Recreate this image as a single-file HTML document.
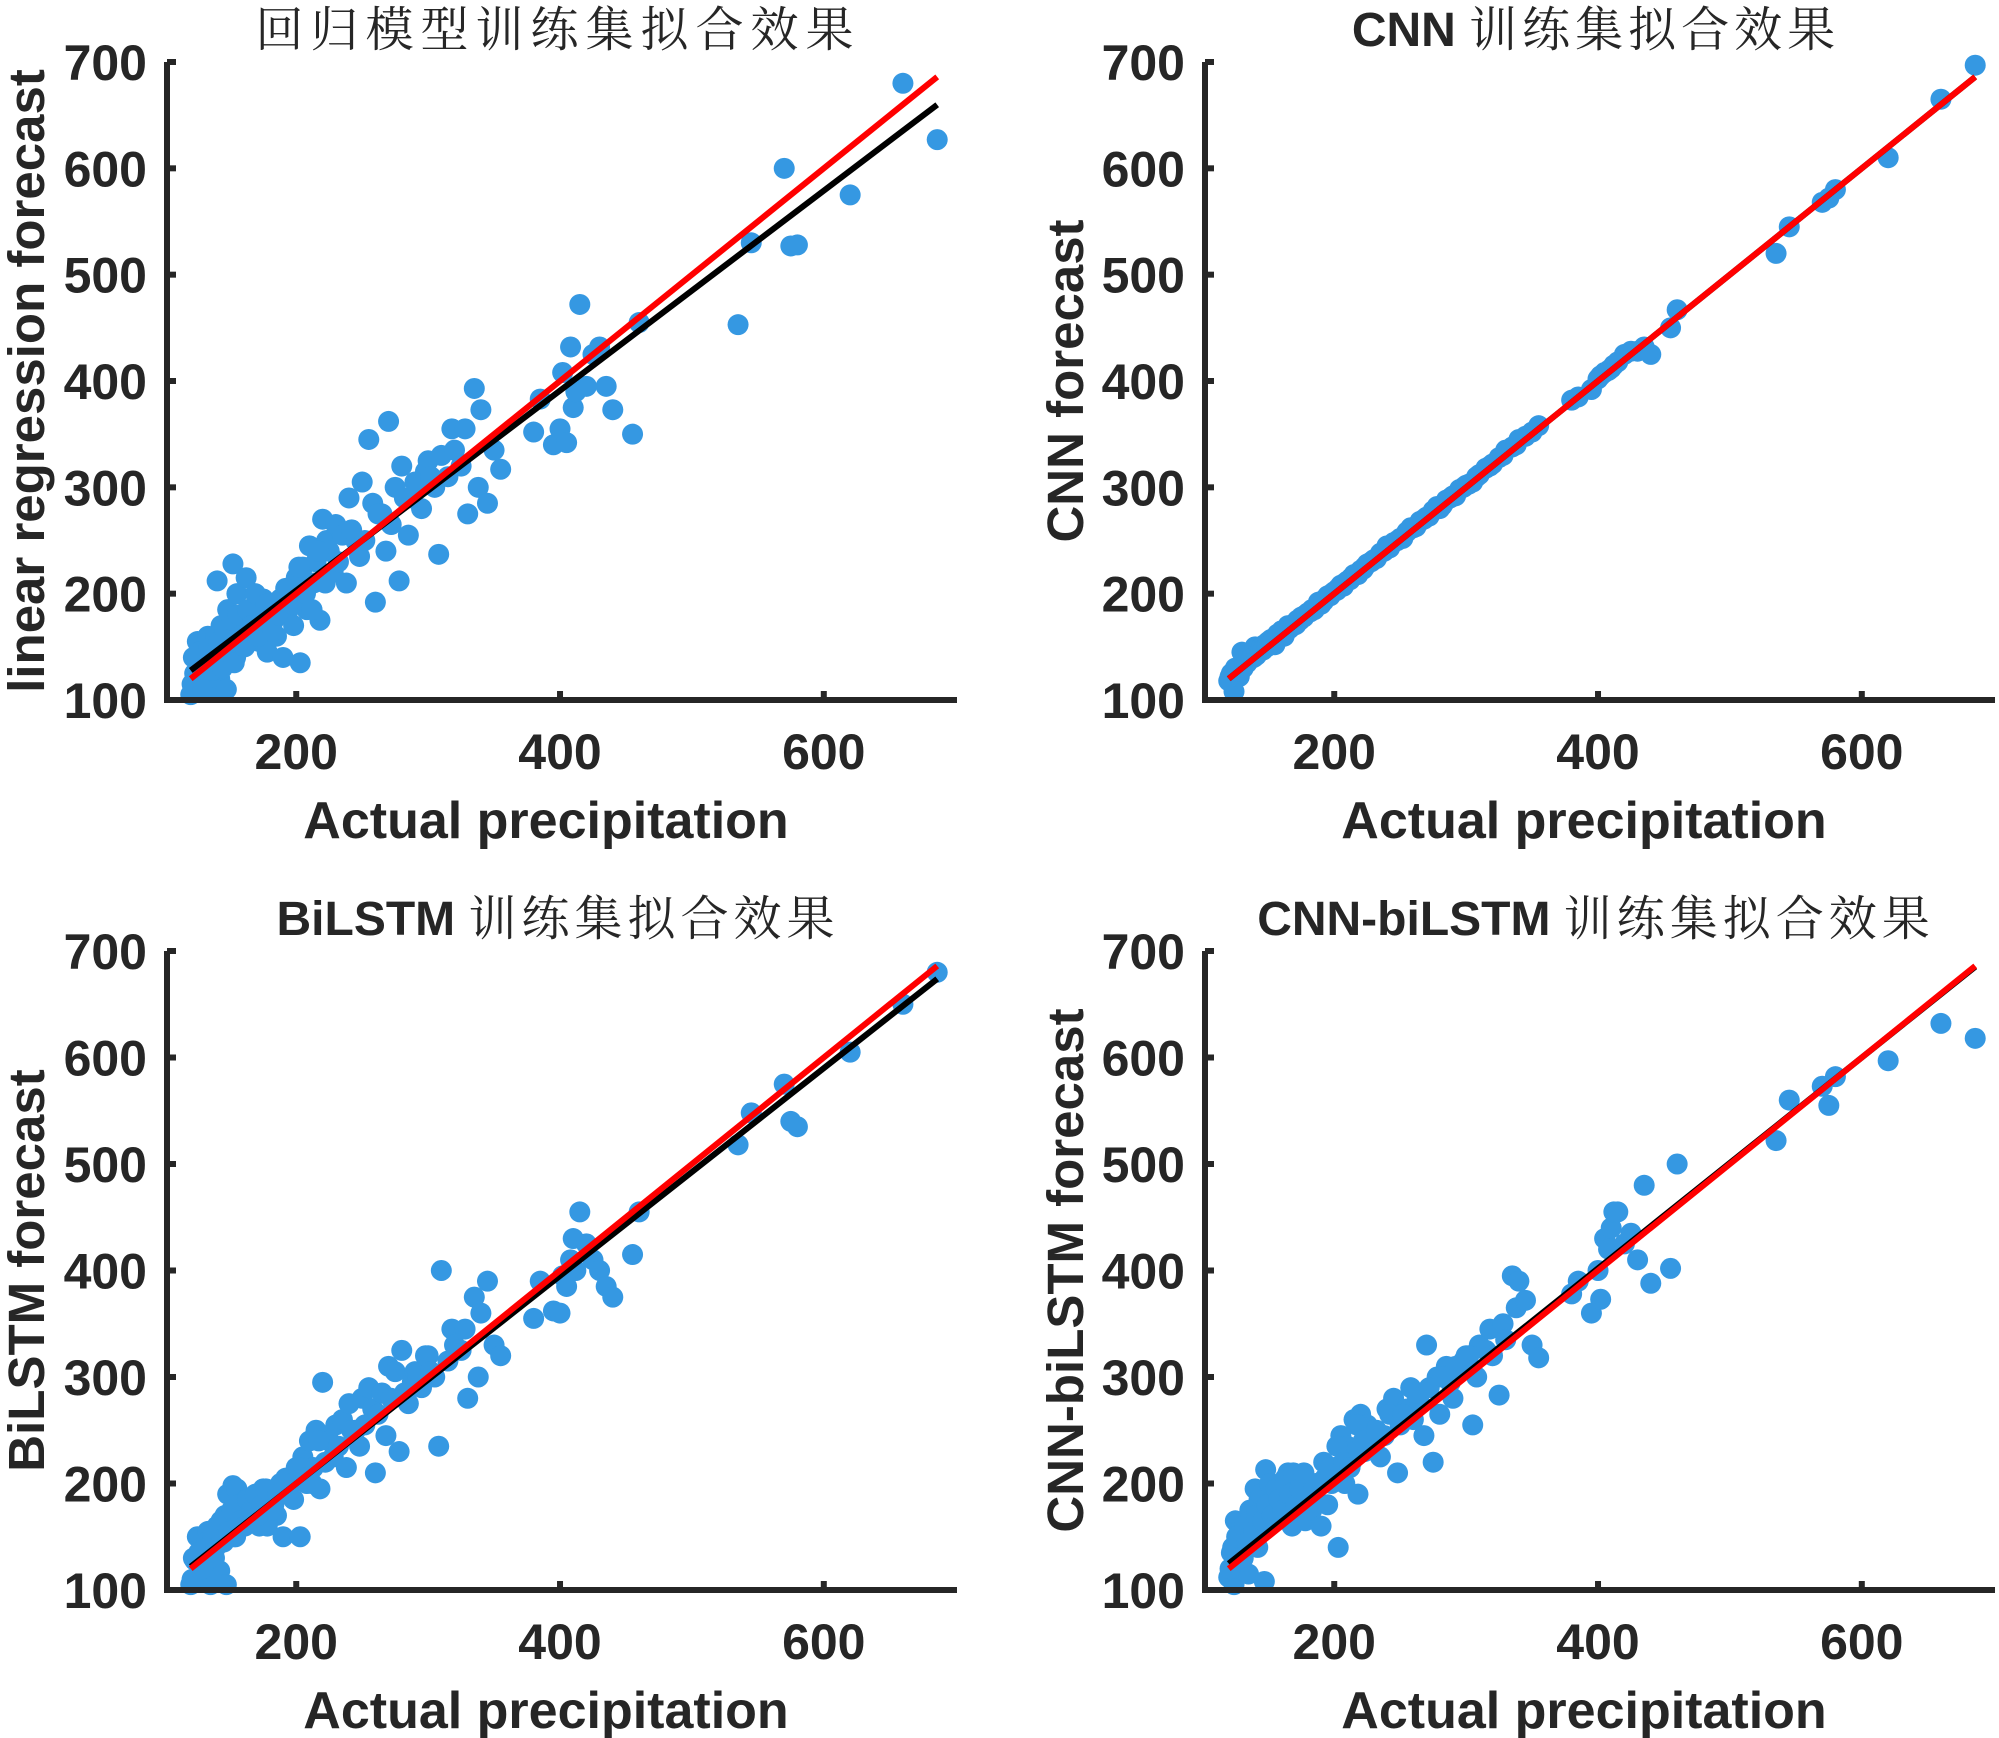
<!DOCTYPE html>
<html><head><meta charset="utf-8">
<style>
html,body{margin:0;padding:0;background:#fff;}
svg{display:block;}
text{font-family:"Liberation Sans","Noto Sans CJK SC",sans-serif;fill:#262626;}
</style></head>
<body>
<svg id="chart" width="1999" height="1738" viewBox="0 0 1999 1738" xmlns="http://www.w3.org/2000/svg"></svg>
<script>
const actual = [120,122,124,125,127,128,130,131,133,135,136,138,140,142,143,145,147,148,150,152,154,155,157,160,162,165,168,170,172,175,178,180,183,185,188,190,193,195,198,200,203,205,208,210,213,215,218,220,223,225,228,230,235,238,240,245,248,250,255,258,260,265,268,270,275,278,280,285,288,290,295,298,300,305,308,310,315,318,320,325,328,330,335,338,340,345,350,355,380,385,395,400,402,405,408,410,412,415,420,425,430,435,440,455,460,535,545,570,575,580,620,660,686,
121,123,126,129,132,134,137,139,141,144,146,149,151,153,156,158,161,163,166,169,171,174,177,182,186,192,197,202,207,212,217,222,232,242,252,262,272,282,292,302];
const predLinear = [105,140,112,155,130,118,150,125,160,108,145,135,212,120,170,150,110,185,160,228,140,200,175,150,215,180,165,190,155,195,145,185,175,160,195,140,180,200,170,215,135,225,185,245,210,230,175,270,250,240,220,265,255,210,290,250,235,305,345,285,192,275,240,362,300,212,320,255,290,305,280,315,325,300,237,330,310,355,335,320,355,275,393,300,373,285,335,317,352,383,340,355,408,342,432,375,390,472,395,425,432,395,373,350,455,453,530,600,527,528,575,680,627,
115,125,145,110,135,150,128,160,155,130,165,145,175,135,180,160,150,185,170,200,160,175,190,165,180,205,190,225,200,185,240,210,230,260,250,275,265,290,300,310];
const predCNN = [118,125,108,130,128,122,145,130,138,140,138,142,150,145,148,150,152,150,155,157,158,152,162,165,160,170,170,172,175,178,180,182,185,185,192,190,195,198,200,202,205,208,210,212,215,218,218,222,225,228,230,232,238,240,245,248,250,252,258,262,262,268,270,272,278,282,280,288,290,292,298,300,302,305,310,312,318,320,322,328,330,335,338,340,345,348,352,358,382,385,392,402,405,408,410,412,415,418,425,428,428,432,425,450,467,520,545,568,572,580,610,665,697,
122,124,127,131,133,135,139,140,142,146,147,150,152,154,157,158,162,164,167,170,171,175,178,183,187,193,198,203,207,213,218,223,233,243,252,263,273,283,292,303];
const predBiLSTM = [105,130,110,150,125,120,140,118,155,105,140,130,160,118,165,145,105,190,155,198,150,195,172,160,185,175,165,190,160,195,160,185,180,170,200,150,190,205,185,215,150,225,200,240,215,250,195,295,245,240,225,255,260,215,275,250,235,280,290,270,210,285,245,310,305,230,325,275,295,305,290,320,320,300,235,400,315,345,330,325,345,280,375,300,360,390,330,320,355,390,362,360,395,385,410,430,400,455,425,410,400,385,375,415,455,518,548,575,540,535,605,650,680,
110,128,135,120,145,130,150,140,160,148,170,155,175,150,180,165,160,185,175,190,170,180,195,175,190,205,200,215,205,200,240,220,235,250,255,265,280,285,300,305];
const predHybrid = [112,135,105,165,125,120,160,130,145,115,175,150,195,140,185,160,108,213,170,200,185,180,178,190,172,210,160,200,175,195,165,190,175,185,200,160,205,180,200,215,140,245,200,235,220,260,190,265,230,255,240,250,225,245,270,280,210,255,270,290,260,275,245,330,220,300,265,310,295,280,305,315,320,255,300,330,325,345,320,283,350,335,395,365,390,372,330,318,378,390,360,400,373,430,420,440,455,455,425,435,410,480,388,402,500,522,560,573,555,582,597,632,618,
120,140,150,130,160,145,175,155,170,190,165,180,200,170,195,185,175,205,190,210,180,195,210,190,200,220,215,235,220,215,255,240,250,265,265,285,290,300,310,320];
const fitSlope = [0.94, 1.0, 0.975, 0.99];
const fitIntercept = [15, 0, 5, 6];
const xTicks = [200,400,600];
const yTicks = [100,200,300,400,500,600,700];
const titlesBold = ["", "CNN ", "BiLSTM ", "CNN-biLSTM "];
const titlesCJK = ["回归模型训练集拟合效果","训练集拟合效果","训练集拟合效果","训练集拟合效果"];
const yLabels = ["linear regression forecast","CNN forecast","BiLSTM forecast","CNN-biLSTM forecast"];
const series = [predLinear, predCNN, predBiLSTM, predHybrid];

const NS="http://www.w3.org/2000/svg";
const svg=document.getElementById('chart');
const XMIN=102, XMAX=701, YMIN=100, YMAX=700;
const panels=[{l:167,r:957,t:62,b:700,ylx:26},{l:1205,r:1995,t:62,b:700,ylx:1065},{l:167,r:957,t:951,b:1590,ylx:26},{l:1205,r:1995,t:951,b:1590,ylx:1065}];
function mk(tag,attrs,parent){const e=document.createElementNS(NS,tag);for(const k in attrs)e.setAttribute(k,attrs[k]);(parent||svg).appendChild(e);return e;}

panels.forEach((p,i)=>{
  const g=mk('g',{});
  
  
  const sx=v=>p.l+(v-XMIN)/(XMAX-XMIN)*(p.r-p.l);
  const sy=v=>p.b-(v-YMIN)/(YMAX-YMIN)*(p.b-p.t);
  const pts=mk('g',{},g);
  
  
  series[i].forEach((y,j)=>{
    const c=mk('circle',{cx:sx(actual[j]),cy:sy(y),r:10.5,fill:'#3598e2'},pts);
    
    
  });
  const x0=120, x1=686;
  const bl=mk('line',{x1:sx(x0),y1:sy(fitSlope[i]*x0+fitIntercept[i]),x2:sx(x1),y2:sy(fitSlope[i]*x1+fitIntercept[i]),stroke:'#000','stroke-width':6},g);
  
  
  const rl=mk('line',{x1:sx(x0),y1:sy(x0),x2:sx(x1),y2:sy(x1),stroke:'#f00','stroke-width':6},g);
  
  
  const ax=mk('path',{d:`M${p.l},${p.t} V${p.b} H${p.r}`,fill:'none',stroke:'#262626','stroke-width':6},g);
  
  
  xTicks.forEach(v=>{
    const t=mk('line',{x1:sx(v),y1:p.b,x2:sx(v),y2:p.b-9,stroke:'#262626','stroke-width':6},g);
    
    
    const tl=mk('text',{x:sx(v),y:p.b+69,'text-anchor':'middle','font-size':50,'font-weight':'bold'},g);
    tl.textContent=v;
    
    
  });
  yTicks.forEach(v=>{
    const t=mk('line',{x1:p.l,y1:sy(v),x2:p.l+9,y2:sy(v),stroke:'#262626','stroke-width':6},g);
    
    
    const tl=mk('text',{x:p.l-20,y:sy(v)+18,'text-anchor':'end','font-size':50,'font-weight':'bold'},g);
    tl.textContent=v;
    
    
  });
  const xl=mk('text',{x:(p.l+p.r)/2-16,y:p.b+138,'text-anchor':'middle','font-size':52,'font-weight':'bold'},g);
  xl.textContent='Actual precipitation';
  
  
  const cy=(p.t+p.b)/2;
  const yl=mk('text',{x:p.ylx,y:cy,'text-anchor':'middle','font-size':51,'font-weight':'bold',transform:`rotate(-90 ${p.ylx} ${cy}) translate(0 18)`},g);
  yl.textContent=yLabels[i];
  
  
  const tt=mk('text',{x:(p.l+p.r)/2-4,y:p.t-16,'text-anchor':'middle','font-size':48},g);
  
  
  if(titlesBold[i]){const b=mk('tspan',{'font-weight':'bold'},tt);b.textContent=titlesBold[i];}
  const c=mk('tspan',{'font-family':'"Noto Serif CJK SC","Noto Sans CJK SC",serif','letter-spacing':i===0?7:5},tt);
  c.textContent=titlesCJK[i];
});
</script>
</body></html>
